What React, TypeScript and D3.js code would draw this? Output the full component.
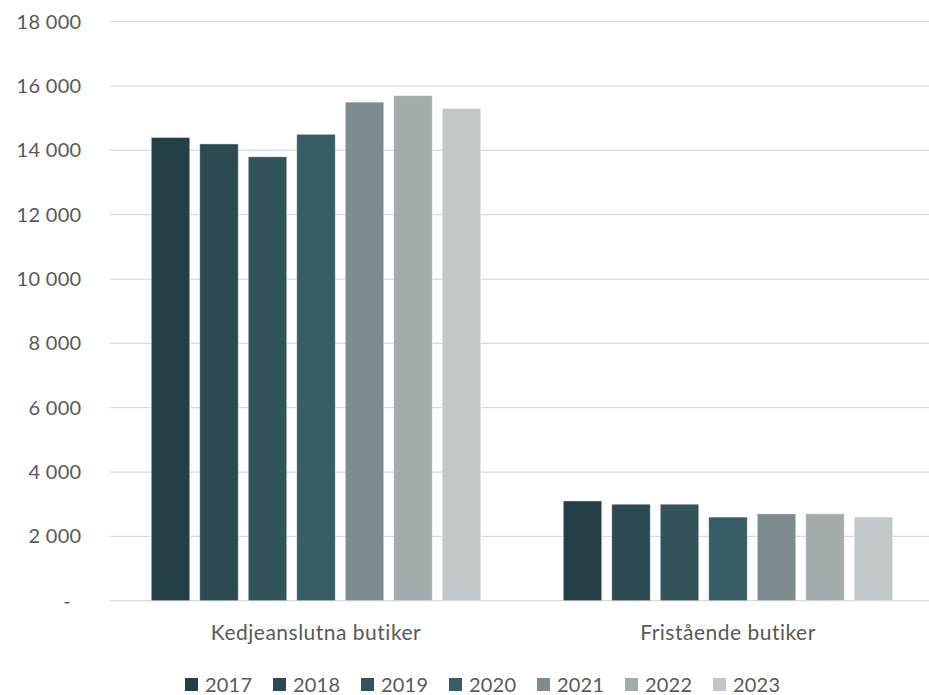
import React from "react";
import * as d3 from "d3";

const categories = ["Kedjeanslutna butiker", "Fristående butiker"];
const years = ["2017", "2018", "2019", "2020", "2021", "2022", "2023"];
const kedjeValues = [14400, 14200, 13800, 14500, 15500, 15700, 15300];
const fristaendeValues = [3100, 3000, 3000, 2600, 2700, 2700, 2600];
const yTicks = [0, 2000, 4000, 6000, 8000, 10000, 12000, 14000, 16000, 18000];
const colors = ["#243f45", "#2c4a51", "#325359", "#375d66", "#7e8b8f", "#a3abad", "#c2c7c9"];

const W = 929;
const H = 695;
const FONT = "Lato, 'Open Sans', sans-serif";

export default function App() {
  const seriesByCat = [kedjeValues, fristaendeValues];
  const y = d3.scaleLinear().domain([0, 18000]).range([600.7, 21.7]);
  const x0 = d3.scaleBand<string>().domain(categories).range([110, 934]).padding(0);
  const cw = x0.bandwidth();
  const groupW = 329.5;
  const x1 = d3
    .scaleBand<string>()
    .domain(years)
    .range([(cw - groupW) / 2, (cw + groupW) / 2])
    .paddingInner(0.206)
    .paddingOuter(0);
  const fmt = (v: number) => (v === 0 ? "-" : d3.format(",")(v).replace(/,/g, " "));

  return (
    <svg
      width={W}
      height={H}
      style={{ position: "fixed", left: 0, top: 0, background: "#fff" }}
      fontFamily={FONT}
    >
      {yTicks.map((t) => (
        <g key={t}>
          <line x1={110} x2={929} y1={y(t)} y2={y(t)} stroke="#d9d9d9" strokeWidth={1.3} />
          <text
            x={t === 0 ? 71 : 81.5}
            y={y(t)}
            dy="0.35em"
            textAnchor="end"
            fontSize={20}
            letterSpacing={0.3}
            fill="#595959"
          >
            {fmt(t)}
          </text>
        </g>
      ))}
      {categories.map((c, ci) => (
        <g key={c} transform={`translate(${x0(c)},0)`}>
          {years.map((yr, i) => {
            const v = seriesByCat[ci][i];
            return (
              <rect
                key={yr}
                x={x1(yr)}
                y={y(v)}
                width={x1.bandwidth()}
                height={y(0) - y(v)}
                fill={colors[i]}
                stroke="#ffffff"
                strokeOpacity={0.55}
                strokeWidth={0.8}
              />
            );
          })}
          <text
            x={cw / 2}
            y={640}
            textAnchor="middle"
            fontSize={21}
            letterSpacing={0.5}
            fill="#595959"
          >
            {c}
          </text>
        </g>
      ))}
      {years.map((yr, i) => (
        <g key={yr} transform={`translate(${185 + i * 88},0)`}>
          <rect x={0} y={678} width={13} height={13} fill={colors[i]} />
          <text x={20} y={692} fontSize={20} letterSpacing={0.2} fill="#595959">
            {yr}
          </text>
        </g>
      ))}
    </svg>
  );
}
